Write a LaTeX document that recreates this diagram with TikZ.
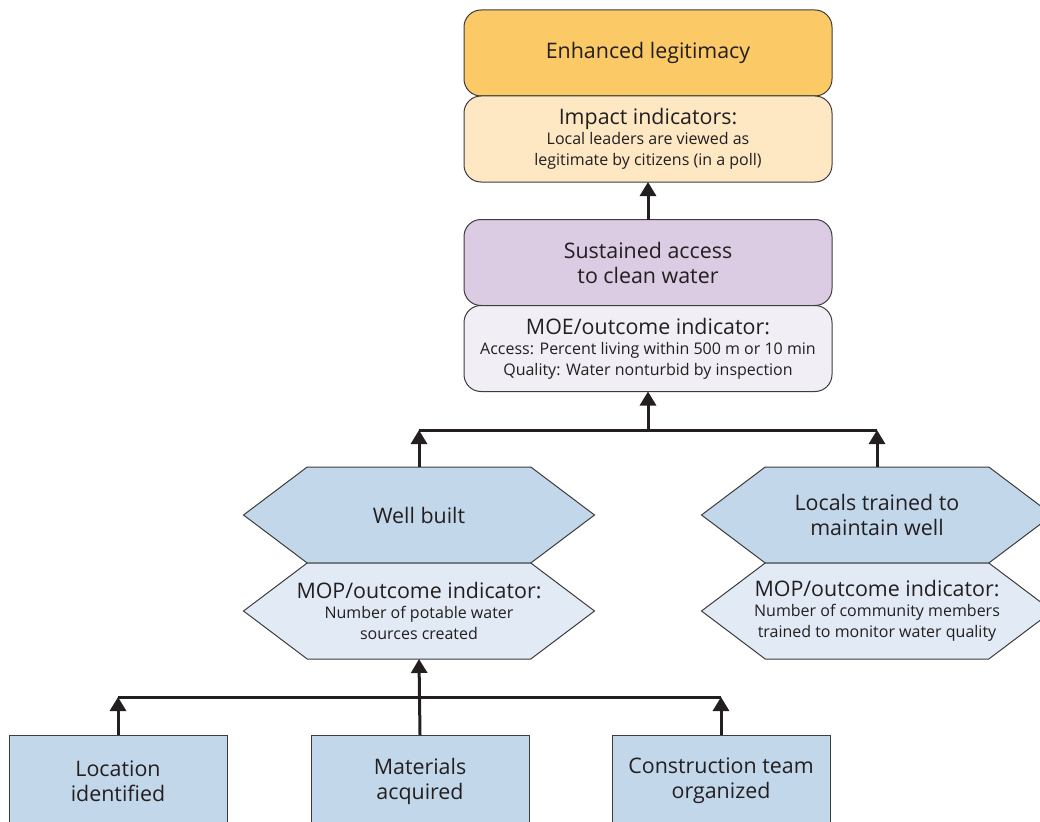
\documentclass[tikz,border=0pt]{standalone}
\usepackage{fontspec}
\setmainfont{Open Sans}
\usetikzlibrary{positioning,shapes.symbols,arrows.meta}
\definecolor{inkgray}{RGB}{35,31,32}
\definecolor{edgegray}{RGB}{60,60,60}
\definecolor{legitfill}{RGB}{251,201,102}
\definecolor{impactfill}{RGB}{253,232,195}
\definecolor{accessfill}{RGB}{219,204,228}
\definecolor{moefill}{RGB}{241,239,245}
\definecolor{hexfill}{RGB}{195,215,235}
\definecolor{hexlight}{RGB}{226,235,245}
\newcommand{\bigtext}{\fontsize{21.4}{25}\selectfont}
\newcommand{\smalltext}{\fontsize{16}{21}\selectfont}
\tikzset{
	goalbox/.style={
			draw=edgegray, line width=1pt, rounded corners=17pt,
			minimum width=368pt, minimum height=86pt, inner sep=0pt, outer sep=0pt,
			align=center, text=inkgray, font=\bigtext
		},
	hexbox/.style={
			signal, signal to=west and east, signal pointer angle=74,
			draw=edgegray, line width=1pt,
			minimum width=351pt, minimum height=96pt, inner xsep=-30pt, inner ysep=0pt, outer sep=0pt,
			align=center, text=inkgray, font=\bigtext
		},
	taskbox/.style={
			draw=edgegray, line width=1pt, fill=hexfill,
			minimum width=218pt, minimum height=92pt, inner sep=0pt, outer sep=0pt,
			align=center, text=inkgray, font=\bigtext
		},
	link/.style={draw=inkgray, line width=3pt},
	uparrow/.style={link, -{Triangle[width=16pt,length=14pt]}}
}

\begin{document}
\begin{tikzpicture}[x=1pt,y=-1pt]
		\useasboundingbox (0,0) rectangle (1040,821);
		\clip (0,0) rectangle (1040,821);
		% outcome boxes
		\node[goalbox, fill=legitfill] (legit) at (648,53) {Enhanced legitimacy};
		\node[goalbox, fill=impactfill, below=0pt of legit] (impact) {Impact indicators:\\[-5pt]\smalltext Local leaders are viewed as\\[-4pt]\smalltext legitimate by citizens (in a poll)};
		\node[goalbox, fill=accessfill] (access) at (648,262.5) {Sustained access\\to clean water};
		\node[goalbox, fill=moefill, below=0pt of access] (moe) {MOE/outcome indicator:\\[-5pt]\smalltext Access: Percent living within 500 m or 10 min\\[-4pt]\smalltext Quality: Water nonturbid by inspection};
		% hexagons
		\node[hexbox, fill=hexfill] (well) at (419,515) {Well built};
		\node[hexbox, fill=hexlight, below=0pt of well] (wellmop) {MOP/outcome indicator:\\[-5pt]\smalltext Number of potable water\\[-4pt]\smalltext sources created};
		\node[hexbox, fill=hexfill] (locals) at (877,515) {Locals trained to\\maintain well};
		\node[hexbox, fill=hexlight, below=0pt of locals] (localsmop) {MOP/outcome indicator:\\[-5pt]\smalltext Number of community members\\[-4pt]\smalltext trained to monitor water quality};
		% tasks
		\node[taskbox] (location) at (118,781) {Location\\identified};
		\node[taskbox] (materials) at (420,781) {Materials\\acquired};
		\node[taskbox] (team) at (721,781) {Construction team\\organized};
		% connectors
		\coordinate (topjoin) at (648,430);
		\coordinate (botjoin) at (419,697);
		\draw[uparrow] (access.north) -- (impact.south);
		\draw[link] (well.north |- topjoin) -- (locals.north |- topjoin);
		\draw[uparrow] (topjoin) -- (moe.south);
		\draw[uparrow] (well.north) -- (well.north |- topjoin);
		\draw[uparrow] (locals.north) -- (locals.north |- topjoin);
		\draw[link] (location.north |- botjoin) -- (team.north |- botjoin);
		\draw[uparrow] (materials.north) -- (wellmop.south);
		\draw[uparrow] (location.north) -- (location.north |- botjoin);
		\draw[uparrow] (team.north) -- (team.north |- botjoin);
	\end{tikzpicture}
\end{document}
